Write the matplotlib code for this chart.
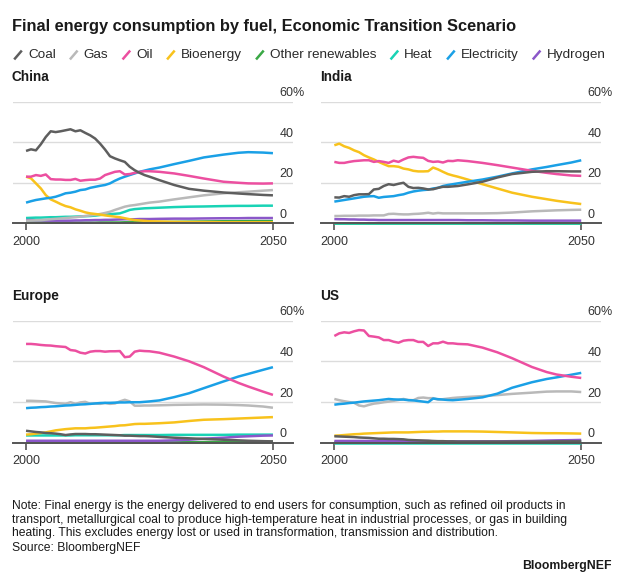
import matplotlib
matplotlib.use("Agg")
import matplotlib.pyplot as plt
from matplotlib.lines import Line2D

plt.rcParams['font.family'] = ['Liberation Sans', 'DejaVu Sans']

# 数据：年份 + 各地区各燃料占比 (%)
YEARS = list(range(2000, 2026)) + [2027, 2030, 2033, 2036, 2040, 2043, 2045, 2048, 2050]

FUELS = ['Coal', 'Gas', 'Oil', 'Bioenergy', 'Other renewables', 'Heat', 'Electricity', 'Hydrogen']
COLORS = ['#5e5e5e', '#b9b9b9', '#ec4fa0', '#f8c21c', '#3aa845', '#19d3b5', '#1aa0e6', '#8b57c9']

china_coal = [35.7, 36.5, 36.0, 39.0, 42.6, 45.4, 45.0, 45.4, 45.9, 46.4, 45.4, 45.9, 44.6, 43.4, 41.8, 39.3,
              36.4, 33.1, 32.0, 31.1, 30.3, 27.9, 26.2, 24.9, 23.8, 23.0, 21.3, 18.9, 17.0, 16.1, 15.2, 14.7,
              14.4, 14.0, 13.8]
china_gas = [1.3, 1.4, 1.5, 1.6, 1.8, 2.0, 2.2, 2.4, 2.6, 2.8, 3.0, 3.3, 3.6, 3.9, 4.2, 4.6, 5.1, 5.7, 6.6,
             7.4, 8.2, 8.7, 9.0, 9.4, 9.8, 10.2, 10.7, 11.8, 12.8, 13.8, 14.8, 15.3, 15.6, 16.1, 16.4]
china_oil = [23.0, 23.0, 23.8, 23.4, 24.1, 21.8, 21.6, 21.6, 21.4, 21.4, 21.9, 21.0, 21.3, 21.5, 21.5, 22.1,
             23.8, 24.6, 25.4, 25.7, 24.1, 24.3, 24.9, 25.4, 25.7, 25.7, 25.4, 24.6, 23.4, 22.1, 20.5, 20.0,
             19.7, 19.6, 19.7]
china_bio = [23.0, 22.2, 19.7, 17.2, 13.9, 11.8, 10.7, 9.5, 8.5, 7.9, 6.9, 6.2, 5.4, 4.9, 4.6, 4.3, 3.9, 3.6,
             3.3, 3.0, 2.5, 2.0, 1.6, 1.4, 1.2, 1.0, 0.9, 0.7, 0.6, 0.6, 0.5, 0.5, 0.5, 0.5, 0.5]
china_ren = [0.3] * 15 + [0.4] * 5 + [0.5] * 6 + [0.6, 0.7, 0.8, 0.9, 1.0, 1.0, 1.1, 1.1, 1.1]
china_heat = [2.6, 2.7, 2.8, 2.8, 2.9, 3.0, 3.0, 3.1, 3.2, 3.2, 3.3, 3.4, 3.5, 3.6, 3.8, 4.1, 4.3, 4.5, 4.7,
              4.9, 5.7, 6.6, 7.0, 7.2, 7.4, 7.5, 7.7, 8.0, 8.2, 8.3, 8.5, 8.6, 8.6, 8.7, 8.7]
china_elec = [10.2, 10.9, 11.5, 11.9, 12.3, 12.6, 13.1, 13.9, 14.8, 15.1, 15.6, 16.4, 16.7, 17.5, 18.0, 18.5,
              18.9, 19.7, 21.0, 22.1, 23.0, 23.8, 24.6, 25.4, 26.0, 26.6, 27.5, 29.2, 30.8, 32.5, 33.9, 34.8,
              35.1, 34.9, 34.6]
china_h2 = [1.6, 1.6, 1.5, 1.5, 1.4, 1.3, 1.3, 1.3, 1.3, 1.3, 1.4, 1.4, 1.5, 1.5, 1.6, 1.6, 1.7, 1.7, 1.8,
            1.9, 2.0, 2.0, 2.0, 2.1, 2.1, 2.1, 2.2, 2.3, 2.3, 2.4, 2.5, 2.5, 2.6, 2.6, 2.6]

india_coal = [12.8, 12.7, 13.4, 13.1, 13.9, 14.3, 14.3, 14.4, 16.7, 17.0, 18.4, 19.3, 18.9, 19.5, 20.0, 18.0,
              17.4, 17.5, 17.2, 16.7, 16.8, 17.5, 18.0, 18.0, 18.2, 18.4, 19.2, 20.5, 22.6, 24.3, 25.4, 25.7,
              25.7, 25.6, 25.6]
india_gas = [3.6, 3.6, 3.7, 3.7, 3.7, 3.8, 3.8, 3.8, 3.9, 3.9, 3.9, 4.6, 4.7, 4.5, 4.4, 4.4, 4.6, 4.7, 4.9,
             5.2, 4.8, 5.1, 4.9, 4.9, 4.9, 4.9, 4.9, 4.9, 5.0, 5.3, 5.9, 6.2, 6.4, 6.6, 6.7]
india_oil = [30.3, 29.8, 29.8, 30.3, 30.7, 30.9, 31.1, 31.1, 30.3, 30.7, 30.3, 29.8, 30.9, 30.3, 31.5, 32.5,
             32.8, 32.5, 32.3, 30.8, 30.3, 30.5, 30.0, 30.8, 30.7, 31.1, 30.7, 29.8, 28.7, 27.5, 25.9, 24.9,
             24.3, 23.6, 23.4]
india_bio = [38.5, 39.3, 38.0, 37.2, 36.0, 35.1, 33.6, 32.5, 31.5, 30.3, 29.2, 28.2, 28.2, 27.9, 27.0, 26.6,
             25.9, 25.6, 25.6, 25.7, 27.5, 26.6, 25.4, 24.3, 23.6, 23.0, 21.6, 19.3, 17.2, 15.1, 13.1, 11.9,
             11.1, 10.1, 9.5]
india_ren = [0.2] * 35
india_heat = [0.1] * 35
india_elec = [10.7, 11.1, 11.5, 11.9, 12.3, 12.7, 13.1, 13.3, 13.4, 12.6, 13.0, 13.2, 13.4, 13.9, 14.3, 15.1,
              15.7, 16.1, 16.4, 16.6, 17.2, 17.5, 18.4, 18.9, 19.3, 19.7, 20.5, 21.6, 23.0, 24.6, 26.6, 27.8,
              28.7, 30.0, 31.1]
india_h2 = [2.1, 2.0, 2.0, 1.9, 1.9, 1.8, 1.8, 1.7, 1.7, 1.6] + [1.6] * 16 + [1.5, 1.5, 1.4, 1.4, 1.3, 1.3, 1.3,
                                                                          1.3, 1.3]

europe_coal = [6.0, 5.7, 5.4, 5.2, 4.9, 4.8, 4.6, 4.3, 3.9, 4.2, 4.4, 4.4, 4.4, 4.3, 4.3, 4.2, 4.1, 4.0, 3.9,
               3.8, 3.6, 3.6, 3.5, 3.4, 3.4, 3.3, 3.0, 2.6, 2.3, 2.0, 1.6, 1.3, 1.1, 0.9, 0.8]
europe_gas = [20.7, 20.7, 20.6, 20.5, 20.4, 20.0, 19.6, 19.4, 19.2, 20.0, 19.2, 19.9, 20.2, 19.2, 19.4, 19.2,
              19.6, 19.2, 19.4, 20.4, 21.2, 20.4, 18.3, 18.3, 18.4, 18.4, 18.5, 18.7, 18.8, 18.9, 18.8, 18.6,
              18.4, 17.9, 17.3]
europe_oil = [48.6, 48.6, 48.4, 48.1, 47.9, 47.8, 47.5, 47.3, 47.1, 45.6, 45.3, 44.3, 43.9, 44.8, 45.1, 45.1,
              44.8, 45.0, 45.0, 45.1, 42.1, 42.4, 44.8, 45.3, 45.1, 45.0, 44.3, 42.4, 40.1, 37.2, 32.6, 29.5,
              27.7, 25.2, 23.6]
europe_bio = [4.1, 4.3, 4.6, 4.9, 5.2, 5.7, 6.2, 6.5, 6.8, 7.0, 7.2, 7.2, 7.2, 7.4, 7.5, 7.7, 7.9, 8.1, 8.3,
              8.6, 8.7, 9.0, 9.3, 9.4, 9.4, 9.5, 9.7, 10.1, 10.8, 11.4, 11.7, 12.0, 12.2, 12.5, 12.7]
europe_ren = [0.2] * 26 + [0.3, 0.3, 0.4, 0.4, 0.5, 0.5, 0.5, 0.6, 0.6]
europe_heat = [3.7] * 10 + [3.8] * 10 + [3.9] * 6 + [3.9, 4.0, 4.0, 4.0, 4.0, 4.1, 4.1, 4.1, 4.1]
europe_elec = [17.1, 17.3, 17.4, 17.6, 17.7, 17.9, 18.0, 18.2, 18.4, 18.5, 18.7, 18.9, 19.0, 19.2, 19.4, 19.6,
               19.7, 19.7, 19.8, 19.9, 19.9, 20.0, 20.0, 20.0, 20.2, 20.4, 20.9, 22.5, 24.4, 26.9, 30.2, 32.6,
               33.9, 35.9, 37.2]
europe_h2 = [1.1] * 26 + [1.1, 1.3, 1.6, 2.1, 2.6, 3.1, 3.3, 3.6, 3.7]

us_coal = [3.3, 3.2, 3.1, 3.0, 2.9, 2.7, 2.6, 2.5, 2.3, 2.1, 2.1, 2.0, 2.0, 1.9, 1.8, 1.5, 1.4, 1.3, 1.2, 1.1,
           1.0, 0.9, 0.9, 0.8, 0.8, 0.7, 0.7, 0.7, 0.7, 0.7, 0.7, 0.7, 0.8, 0.8, 0.8]
us_gas = [21.6, 21.0, 20.5, 20.1, 19.7, 18.4, 18.0, 18.7, 19.3, 19.6, 20.0, 20.3, 20.7, 21.1, 21.6, 21.1, 21.0,
          22.1, 22.3, 22.0, 22.0, 21.3, 21.5, 21.8, 22.1, 22.3, 22.6, 23.0, 23.5, 24.1, 24.7, 25.2, 25.3, 25.3,
          25.0]
us_oil = [52.5, 53.8, 54.3, 54.0, 54.8, 55.4, 55.2, 52.5, 52.2, 51.8, 50.5, 50.5, 49.7, 49.2, 50.2, 50.5, 50.5,
          49.6, 49.6, 47.6, 48.9, 48.9, 49.7, 48.9, 48.9, 48.6, 48.4, 46.8, 44.5, 41.6, 37.3, 34.8, 33.6, 32.5,
          31.9]
us_bio = [3.6, 3.7, 3.9, 4.1, 4.3, 4.4, 4.6, 4.7, 4.8, 4.9, 5.0, 5.1, 5.2, 5.2, 5.2, 5.2, 5.3, 5.4, 5.5, 5.5,
          5.6, 5.6, 5.7, 5.7, 5.7, 5.7, 5.7, 5.6, 5.4, 5.2, 4.9, 4.8, 4.8, 4.7, 4.6]
us_ren = [0.3] * 26 + [0.3, 0.4, 0.4, 0.4, 0.5, 0.5, 0.5, 0.5, 0.5]
us_heat = [0.2] * 35
us_elec = [18.8, 19.1, 19.3, 19.6, 19.8, 20.1, 20.4, 20.6, 20.8, 21.0, 21.3, 21.6, 21.4, 21.3, 21.3, 21.0, 20.9,
           20.6, 20.3, 20.0, 21.8, 21.5, 21.3, 21.1, 21.0, 21.2, 21.6, 22.4, 24.2, 27.1, 29.8, 31.4, 32.2, 33.5,
           34.4]
us_h2 = [1.0] * 20 + [0.8] * 6 + [0.8, 0.8, 0.8, 0.9, 1.0, 1.2, 1.3, 1.4, 1.5]

REGIONS = ['China', 'India', 'Europe', 'US']
region_data = {
    'China': [china_coal, china_gas, china_oil, china_bio, china_ren, china_heat, china_elec, china_h2],
    'India': [india_coal, india_gas, india_oil, india_bio, india_ren, india_heat, india_elec, india_h2],
    'Europe': [europe_coal, europe_gas, europe_oil, europe_bio, europe_ren, europe_heat, europe_elec, europe_h2],
    'US': [us_coal, us_gas, us_oil, us_bio, us_ren, us_heat, us_elec, us_h2],
}
# 绘制顺序 (后画的在上面)
DRAW_ORDER = [4, 5, 7, 1, 3, 6, 2, 0]

W, H = 624, 583
TXT = '#1a1a1a'


def fx(px):
    return px / W


def fy(py):
    return 1 - py / H


fig = plt.figure(figsize=(W / 100, H / 100), dpi=100)
fig.patch.set_facecolor('white')

# 各子图位置 (像素): left, top(60%), bottom(0)
panel_px = {
    'China': (12.7, 101.7, 223.3),
    'India': (321, 101.7, 223.3),
    'Europe': (12.7, 320.7, 443),
    'US': (321, 320.7, 443),
}
panel_w = 280

for region in REGIONS:
    left, top, bottom = panel_px[region]
    ax = fig.add_axes([fx(left), fy(bottom), panel_w / W, (bottom - top) / H])
    ax.set_xlim(1997.3, 2054.0)
    ax.set_ylim(0, 60)
    for s in ax.spines.values():
        s.set_visible(False)
    for v in [20, 40, 60]:
        ax.axhline(v, color='#dcdcdc', lw=1.0, zorder=1)
    ax.axhline(0, color='#555555', lw=1.4, zorder=5, clip_on=False)
    for v, lab in [(0, '0'), (20, '20'), (40, '40'), (60, '60%')]:
        ax.text(2051.3, v + 1.3, lab, fontsize=9, color='#333333', ha='left', va='bottom')
    series = region_data[region]
    for i in DRAW_ORDER:
        ax.plot(YEARS, series[i], color=COLORS[i], lw=1.8, solid_capstyle='butt', zorder=3, clip_on=False)
    ax.set_yticks([])
    ax.set_xticks([2000, 2050])
    ax.set_xticklabels(['2000', '2050'])
    ax.tick_params(axis='x', length=5, width=1.2, color='#555555', pad=4, labelsize=9, labelcolor='#333333')
    fig.text(fx(left - 0.7), fy(top - 25), region, fontsize=9.8, fontweight='bold', color=TXT,
             ha='left', va='center')

# 标题
fig.text(fx(12), fy(27), 'Final energy consumption by fuel, Economic Transition Scenario',
         fontsize=11.8, fontweight='bold', color=TXT, ha='left', va='center')

# 图例 (斜线标记)
fig.canvas.draw()
renderer = fig.canvas.get_renderer()
x = 12
ly = 55
for name, col in zip(FUELS, COLORS):
    fig.add_artist(Line2D([fx(x + 3), fx(x + 9)], [fy(ly + 3.5), fy(ly - 3.5)], color=col, lw=1.8,
                          transform=fig.transFigure))
    t = fig.text(fx(x + 16), fy(ly), name, fontsize=9.7, color='#2a2a2a', ha='left', va='center')
    bb = t.get_window_extent(renderer)
    x = bb.x1 + 12

# 注释
note = ("Note: Final energy is the energy delivered to end users for consumption, such as refined oil products in\n"
        "transport, metallurgical coal to produce high-temperature heat in industrial processes, or gas in building\n"
        "heating. This excludes energy lost or used in transformation, transmission and distribution.")
fig.text(fx(12), fy(500), note, fontsize=8.75, color=TXT, ha='left', va='top', linespacing=1.18)
fig.text(fx(12), fy(548), 'Source: BloombergNEF', fontsize=8.75, color=TXT, ha='left', va='center')
fig.text(fx(612), fy(566), 'BloombergNEF', fontsize=8.8, fontweight='bold', color=TXT, ha='right', va='center')

fig.savefig('out.png', dpi=100)
